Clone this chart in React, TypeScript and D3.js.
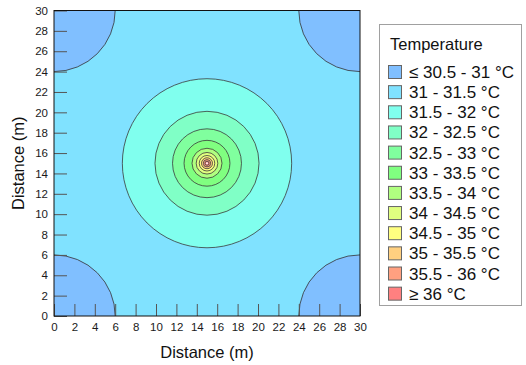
import { useEffect, useRef } from "react"
import * as d3 from "d3"

// Temperature bands (legend order)
const bandLabels = [
  "≤ 30.5 - 31 °C",
  "31 - 31.5 °C",
  "31.5 - 32 °C",
  "32 - 32.5 °C",
  "32.5 - 33 °C",
  "33 - 33.5 °C",
  "33.5 - 34 °C",
  "34 - 34.5 °C",
  "34.5 - 35 °C",
  "35 - 35.5 °C",
  "35.5 - 36 °C",
  "≥ 36 °C",
]
const bandColors = [
  "#80bfff",
  "#80e2ff",
  "#80ffee",
  "#80ffc6",
  "#80ff9e",
  "#80ff80",
  "#b0ff80",
  "#e0ff80",
  "#ffff80",
  "#ffd080",
  "#ffa080",
  "#ff8080",
]

// contour levels around the heat source and their radii (m)
const circleLevels = [31.5, 32, 32.5, 33, 33.5, 34, 34.5, 35, 35.5, 36]
const circleRadii = [8.3, 5.1, 3.38, 2.25, 1.47, 1.06, 0.76, 0.54, 0.36, 0.2]
const source: [number, number] = [15, 15]

// the 31 °C contour closes around each corner
const cornerRadius = 6
const corners: [number, number][] = [
  [0, 0],
  [0, 30],
  [30, 0],
  [30, 30],
]

const xTicks = [0, 2, 4, 6, 8, 10, 12, 14, 16, 18, 20, 22, 24, 26, 28, 30]
const yTicks = [0, 2, 4, 6, 8, 10, 12, 14, 16, 18, 20, 22, 24, 26, 28, 30]

const W = 526
const H = 365
const font = "Arial, 'Liberation Sans', sans-serif"

export default function App() {
  const svgRef = useRef<SVGSVGElement>(null)

  useEffect(() => {
    if (!svgRef.current) return
    const svg = d3.select(svgRef.current)
    svg.selectAll("*").remove()

    const left = 54
    const right = 360
    const top = 10.5
    const bottom = 316

    const x = d3.scaleLinear().domain([0, 30]).range([left, right])
    const y = d3.scaleLinear().domain([0, 30]).range([bottom, top])
    const rx = (r: number) => x(r) - x(0)
    const ry = (r: number) => y(0) - y(r)

    svg
      .append("clipPath")
      .attr("id", "plot-clip")
      .append("rect")
      .attr("x", left)
      .attr("y", top)
      .attr("width", right - left)
      .attr("height", bottom - top)

    const plot = svg.append("g").attr("clip-path", "url(#plot-clip)")

    // background band 31 - 31.5
    plot
      .append("rect")
      .attr("x", left)
      .attr("y", top)
      .attr("width", right - left)
      .attr("height", bottom - top)
      .attr("fill", bandColors[1])

    // corner regions below 31
    plot
      .selectAll(".corner")
      .data(corners)
      .enter()
      .append("ellipse")
      .attr("cx", (d) => x(d[0]))
      .attr("cy", (d) => y(d[1]))
      .attr("rx", rx(cornerRadius))
      .attr("ry", ry(cornerRadius))
      .attr("fill", bandColors[0])
      .attr("stroke", "#333")
      .attr("stroke-width", 0.8)

    // concentric bands around the source
    plot
      .selectAll(".ring")
      .data(circleLevels)
      .enter()
      .append("ellipse")
      .attr("cx", x(source[0]))
      .attr("cy", y(source[1]))
      .attr("rx", (_, i) => rx(circleRadii[i]))
      .attr("ry", (_, i) => ry(circleRadii[i]))
      .attr("fill", (_, i) => bandColors[i + 2])
      .attr("stroke", "#3a3a3a")
      .attr("stroke-width", 0.8)

    plot
      .append("circle")
      .attr("cx", x(source[0]))
      .attr("cy", y(source[1]))
      .attr("r", 0.9)
      .attr("fill", "#fff")

    // axes with inward ticks
    const yAxis = svg
      .append("g")
      .attr("transform", `translate(${left},0)`)
      .call(d3.axisLeft(y).tickValues(yTicks).tickSizeInner(-13).tickSizeOuter(0).tickPadding(6))
    const xAxis = svg
      .append("g")
      .attr("transform", `translate(0,${bottom})`)
      .call(d3.axisBottom(x).tickValues(xTicks).tickSizeInner(-12).tickSizeOuter(0).tickPadding(7))

    for (const ax of [xAxis, yAxis]) {
      ax.select(".domain").remove()
      ax.selectAll("line").attr("stroke", "#555").attr("stroke-width", 1)
      ax.selectAll("text").attr("fill", "#1a1a1a").attr("font-size", "11.5px").attr("font-family", font)
    }

    // plot frame
    svg
      .append("rect")
      .attr("x", left)
      .attr("y", top)
      .attr("width", right - left)
      .attr("height", bottom - top)
      .attr("fill", "none")
      .attr("stroke", "#111")
      .attr("stroke-width", 1)

    svg
      .append("text")
      .attr("x", (left + right) / 2)
      .attr("y", 358)
      .attr("text-anchor", "middle")
      .attr("font-family", font)
      .attr("font-size", "16.5px")
      .attr("fill", "#111")
      .text("Distance (m)")

    svg
      .append("text")
      .attr("transform", `translate(24,${(top + bottom) / 2}) rotate(-90)`)
      .attr("text-anchor", "middle")
      .attr("font-family", font)
      .attr("font-size", "16.5px")
      .attr("fill", "#111")
      .text("Distance (m)")

    // legend
    const lg = svg.append("g")
    lg.append("rect")
      .attr("x", 379.5)
      .attr("y", 24.5)
      .attr("width", 142)
      .attr("height", 281)
      .attr("fill", "#fff")
      .attr("stroke", "#a0a0a0")

    lg.append("text")
      .attr("x", 390)
      .attr("y", 50)
      .attr("font-family", font)
      .attr("font-size", "16.5px")
      .attr("fill", "#111")
      .text("Temperature")

    const rows = lg
      .selectAll(".item")
      .data(bandLabels)
      .enter()
      .append("g")
      .attr("transform", (_, i) => `translate(388,${72 + i * 20.15})`)

    rows
      .append("rect")
      .attr("x", 0.5)
      .attr("y", -6.5)
      .attr("width", 13)
      .attr("height", 13)
      .attr("fill", (_, i) => bandColors[i])
      .attr("stroke", "#666")

    rows
      .append("text")
      .attr("x", 21)
      .attr("y", 6)
      .attr("font-family", font)
      .attr("font-size", "17px")
      .attr("fill", "#111")
      .text((d) => d)
  }, [])

  return (
    <div style={{ position: "absolute", left: 0, top: 0 }}>
      <svg ref={svgRef} width={W} height={H} style={{ display: "block", background: "#fff" }} />
    </div>
  )
}
